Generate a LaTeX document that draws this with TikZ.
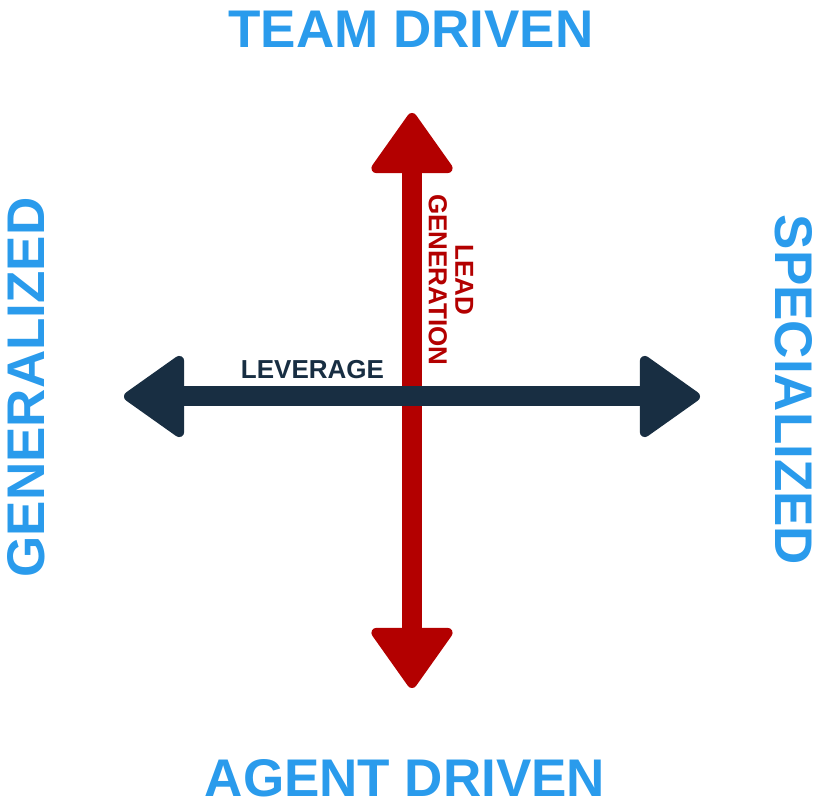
\documentclass[tikz,border=0pt]{standalone}
\usepackage{fontspec}
\setmainfont{Liberation Sans}
\usetikzlibrary{arrows.meta}
\definecolor{axisblue}{HTML}{2A9BEC}
\definecolor{axisred}{HTML}{B30000}
\definecolor{axisdark}{HTML}{182E42}
\tikzset{
	quadlabel/.style={text=axisblue, inner sep=0pt, font=\fontsize{53}{56}\selectfont\bfseries},
	axislabel/.style={inner sep=0pt, align=center, font=\fontsize{26}{26.5}\selectfont\bfseries},
	bigarrow/.style={line width=20pt, {Triangle[length=64pt, width=88pt, line width=10pt, round]}-{Triangle[length=64pt, width=88pt, line width=10pt, round]}}
}

\begin{document}
\begin{tikzpicture}[x=1pt, y=1pt]
	\useasboundingbox (0,0) rectangle (817,804);
	\coordinate (top) at (412,691);
	\coordinate (bottom) at (412,116);
	\coordinate (left) at (124,407.5);
	\coordinate (right) at (700,407.5);
	\draw[bigarrow, axisred] (bottom) -- (top);
	\draw[bigarrow, axisdark] (left) -- (right);
	\node[quadlabel] (team) at (411,775) {TEAM DRIVEN};
	\node[quadlabel] (agent) at (405,25.5) {AGENT DRIVEN};
	\node[quadlabel, rotate=90] (general) at (26,416.5) {GENERALIZED};
	\node[quadlabel, rotate=-90] (special) at (793.5,414) {SPECIALIZED};
	\node[axislabel, text=axisdark] (leverage) at (312.5,434) {LEVERAGE};
	\node[axislabel, text=axisred, rotate=-90] (lead) at (451,524) {LEAD\\GENERATION};
\end{tikzpicture}
\end{document}
